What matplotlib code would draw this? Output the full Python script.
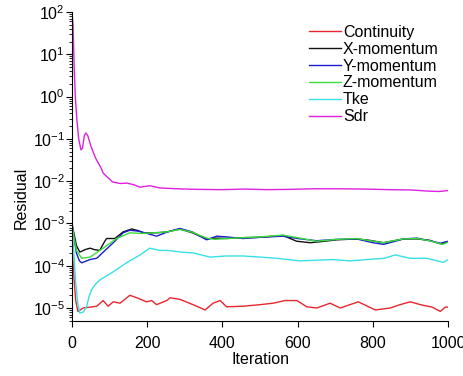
import matplotlib
matplotlib.use("Agg")
import matplotlib.pyplot as plt
from matplotlib.ticker import LogLocator, FixedLocator, NullLocator

plt.rcParams['font.family'] = ['Liberation Sans', 'DejaVu Sans']
plt.rcParams['mathtext.fontset'] = 'custom'
plt.rcParams['mathtext.rm'] = 'Liberation Sans'
plt.rcParams['mathtext.it'] = 'Liberation Sans:italic'
plt.rcParams['mathtext.bf'] = 'Liberation Sans:bold'

# residual histories (iteration, value)
cont_it = [0, 5, 10, 16, 30, 48, 66, 83, 96, 110, 128, 154, 176, 198, 212, 225, 252, 261, 287,
           322, 354, 375, 394, 411, 455, 500, 535, 566, 598, 624, 651, 686, 713, 761, 806, 846,
           872, 899, 926, 957, 979, 992, 1000]
cont_val = [3e-4, 6e-5, 1.5e-5, 8.3e-6, 1e-5, 1.05e-5, 1.1e-5, 1.5e-5, 1.1e-5, 1.4e-5, 1.3e-5,
            2e-5, 1.7e-5, 1.4e-5, 1.5e-5, 1.2e-5, 1.5e-5, 1.75e-5, 1.6e-5, 1.2e-5, 9e-6, 1.3e-5,
            1.5e-5, 1.07e-5, 1.1e-5, 1.2e-5, 1.3e-5, 1.5e-5, 1.5e-5, 1.07e-5, 1e-5, 1.3e-5, 1e-5,
            1.4e-5, 9e-6, 1e-5, 1.2e-5, 1.4e-5, 1.2e-5, 1.05e-5, 8.3e-6, 1.05e-5, 1.05e-5]

xmom_it = [0, 5, 12, 21, 35, 48, 60, 74, 85, 92, 114, 136, 159, 175, 190, 225, 252, 287, 320,
           358, 380, 411, 450, 500, 561, 597, 633, 660, 704, 757, 790, 828, 881, 917, 950, 979, 1000]
xmom_val = [1e-3, 6e-4, 3e-4, 2.1e-4, 2.4e-4, 2.6e-4, 2.4e-4, 2.3e-4, 3.5e-4, 4.4e-4, 4.4e-4,
            6.3e-4, 7.4e-4, 6.8e-4, 6e-4, 6e-4, 6.3e-4, 7.4e-4, 6e-4, 4.3e-4, 4.5e-4, 4.4e-4,
            4.6e-4, 4.7e-4, 5.2e-4, 3.8e-4, 3.5e-4, 3.7e-4, 4.1e-4, 4.3e-4, 4e-4, 3.5e-4, 4.3e-4,
            4.3e-4, 4e-4, 3.3e-4, 3.7e-4]

ymom_it = [0, 5, 12, 20, 26, 48, 66, 88, 110, 136, 154, 180, 225, 252, 287, 320, 358, 385, 411,
           455, 500, 561, 600, 650, 704, 757, 800, 828, 860, 881, 917, 950, 979, 1000]
ymom_val = [1e-3, 5e-4, 2e-4, 1.3e-4, 1.17e-4, 1.4e-4, 1.5e-4, 2.3e-4, 3.5e-4, 6e-4, 6.9e-4,
            6.5e-4, 5e-4, 6.2e-4, 7.6e-4, 6.3e-4, 4.1e-4, 5e-4, 4.8e-4, 4.4e-4, 4.7e-4, 5e-4,
            4.4e-4, 3.9e-4, 4.2e-4, 4.3e-4, 3.5e-4, 3.2e-4, 3.8e-4, 4.3e-4, 4.5e-4, 3.9e-4,
            3.4e-4, 3.8e-4]

zmom_it = [0, 5, 12, 26, 48, 83, 119, 154, 185, 216, 252, 287, 320, 358, 380, 411, 455, 500,
           561, 600, 650, 704, 757, 800, 828, 881, 917, 950, 985, 1000]
zmom_val = [1e-3, 5e-4, 2.3e-4, 1.5e-4, 1.6e-4, 2.6e-4, 4.4e-4, 6e-4, 5.8e-4, 6e-4, 6.3e-4,
            7.2e-4, 6.2e-4, 4.5e-4, 4.2e-4, 4.4e-4, 4.6e-4, 4.8e-4, 5.3e-4, 4.6e-4, 3.8e-4,
            4.2e-4, 4.4e-4, 3.8e-4, 3.5e-4, 4.3e-4, 4.4e-4, 3.9e-4, 3.2e-4, 3.6e-4]

tke_it = [0, 5, 10, 16, 21, 30, 39, 45, 52, 62, 74, 110, 145, 181, 207, 234, 255, 290, 323, 367,
          410, 455, 500, 544, 606, 650, 694, 739, 784, 830, 859, 899, 943, 987, 1000]
tke_val = [1e-3, 2e-4, 4e-5, 1.2e-5, 7.6e-6, 8e-6, 1.07e-5, 1.8e-5, 2.7e-5, 3.6e-5, 4.6e-5,
           7.2e-5, 1.17e-4, 1.8e-4, 2.6e-4, 2.3e-4, 2.3e-4, 2.1e-4, 2e-4, 1.6e-4, 1.7e-4, 1.7e-4,
           1.6e-4, 1.5e-4, 1.3e-4, 1.35e-4, 1.4e-4, 1.3e-4, 1.4e-4, 1.5e-4, 1.8e-4, 1.5e-4,
           1.5e-4, 1.2e-4, 1.4e-4]

sdr_it = [0, 3, 6, 9, 13, 18, 24, 28, 33, 37, 42, 50, 56, 63, 70, 78, 83, 96, 109, 128, 146,
          165, 181, 207, 234, 280, 330, 400, 460, 520, 580, 640, 713, 780, 840, 900, 950, 975, 1000]
sdr_val = [100, 50, 5, 1.0, 0.3, 0.1, 0.055, 0.06, 0.12, 0.138, 0.12, 0.07, 0.05, 0.035, 0.027,
           0.02, 0.0155, 0.012, 0.0095, 0.0088, 0.009, 0.0082, 0.0072, 0.0078, 0.0069, 0.0066,
           0.0064, 0.0063, 0.0065, 0.0063, 0.0064, 0.0066, 0.0066, 0.0065, 0.0063, 0.0062,
           0.0058, 0.0057, 0.006]

SERIES = [("Continuity", cont_it, cont_val, "#e8262e"),
          ("X-momentum", xmom_it, xmom_val, "#111111"),
          ("Y-momentum", ymom_it, ymom_val, "#1c1ccc"),
          ("Z-momentum", zmom_it, zmom_val, "#3adc3a"),
          ("Tke", tke_it, tke_val, "#38e0e6"),
          ("Sdr", sdr_it, sdr_val, "#e020e0")]

fig = plt.figure(figsize=(4.64, 3.76), dpi=100)
ax = fig.add_axes([0.155, 0.146, 0.811, 0.822])
for name, it, val, col in SERIES:
    ax.plot(it, val, color=col, lw=1.0, label=name)

ax.set_yscale("log")
ax.set_ylim(4.9e-6, 100)
ax.set_xlim(0, 1000)
ax.xaxis.set_major_locator(FixedLocator([0, 200, 400, 600, 800, 1000]))
ax.xaxis.set_minor_locator(NullLocator())
ax.yaxis.set_major_locator(LogLocator(base=10, numticks=20))
ax.yaxis.set_minor_locator(LogLocator(base=10, subs=range(2, 10), numticks=20))
ax.spines["top"].set_visible(False)
ax.spines["right"].set_visible(False)
ax.tick_params(labelsize=11.5, length=4.5, width=0.8)
ax.tick_params(axis="x", pad=6)
ax.tick_params(axis="y", pad=0.5)
ax.tick_params(which="minor", length=2.5, width=0.6)
ax.set_xlabel("Iteration", fontsize=11.5, labelpad=1)
ax.set_ylabel("Residual", fontsize=11.5)
ax.yaxis.set_label_coords(-0.115, 0.40)

ax.legend(loc="upper right", bbox_to_anchor=(1.0, 0.99), frameon=False, fontsize=11.5,
          handlelength=2.0, handletextpad=0.1, labelspacing=0.12, borderaxespad=0.2)

fig.savefig("out.png", dpi=100)
